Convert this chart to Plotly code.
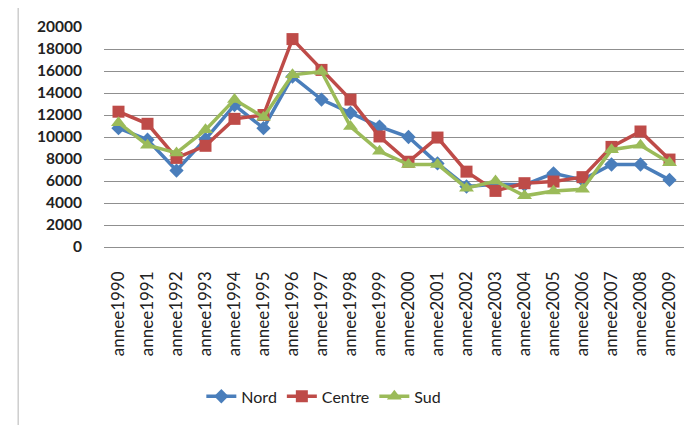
import plotly.graph_objects as go

years = ["annee" + str(y) for y in range(1990, 2010)]
nord = [10800, 9750, 6950, 9800, 12900, 10800, 15500, 13400, 12200, 10950,
        10000, 7600, 5500, 5700, 5650, 6700, 6100, 7500, 7500, 6100]
centre = [12300, 11200, 8100, 9200, 11650, 12000, 18900, 16100, 13400, 10050,
          7750, 9950, 6850, 5100, 5800, 5950, 6350, 9100, 10500, 7950]
sud = [11300, 9250, 8550, 10650, 13400, 11800, 15650, 15950, 10950, 8700,
       7500, 7500, 5350, 6000, 4650, 5100, 5250, 8850, 9250, 7650]
series = [("Nord", nord, "#4A7EBB", "diamond", 11),
          ("Centre", centre, "#BE4B48", "square", 12),
          ("Sud", sud, "#9BBB59", "triangle-up", 13)]
yticks = list(range(0, 20001, 2000))
ytick_text = [str(v) for v in yticks]

fig = go.Figure()
for name, vals, col, sym, sz in series:
    fig.add_trace(go.Scatter(
        x=years, y=vals, name=name, mode="lines+markers",
        line=dict(color=col, width=3.5),
        marker=dict(symbol=sym, size=sz, color=col),
    ))

# page body has an 8px margin, so figure coords = screen coords - 8
OFF = 8
W, H = 700, 425
L = 103.5 - OFF
T = 27.3 - OFF
R = W - (684.5 - OFF)
B = H - (247.5 - OFF)
pw, ph = W - L - R, H - T - B

def px(x):
    return (x - OFF - L) / pw

def py(y):
    return (H - B - (y - OFF)) / ph

fig.update_layout(
    width=W, height=H,
    margin=dict(l=L, r=R, t=T, b=B, pad=0, autoexpand=False),
    paper_bgcolor="white", plot_bgcolor="white",
    font=dict(family="Lato", color="#222222"),
    xaxis=dict(type="category", range=[-0.5, len(years) - 0.5], tickangle=-90,
               showgrid=False, showline=False,
               ticks="", tickfont=dict(size=17, family="Lato", color="#222222"),
               ticklabelstandoff=20, zeroline=False, automargin=False),
    yaxis=dict(range=[0, 20000], tickvals=yticks, ticktext=ytick_text, showgrid=True,
               gridcolor="#8f8f8f", gridwidth=1, zeroline=True,
               zerolinecolor="#8f8f8f", zerolinewidth=1, showline=False,
               ticks="", tickfont=dict(size=15.5, family="Lato", color="#222222", weight="bold"),
               ticklabelstandoff=21, automargin=False),
    legend=dict(orientation="h", x=px(201), xanchor="left", y=py(397), yanchor="middle",
                font=dict(size=16, family="Lato", color="#222222"),
                itemwidth=30, bgcolor="rgba(0,0,0,0)"),
    showlegend=True,
    shapes=[dict(type="rect", xref="paper", yref="paper",
                 x0=px(17.5), x1=px(720), y0=py(440), y1=py(6.5),
                 line=dict(color="#b4b4b4", width=1), layer="below")],
)

fig.write_html("out.html")
